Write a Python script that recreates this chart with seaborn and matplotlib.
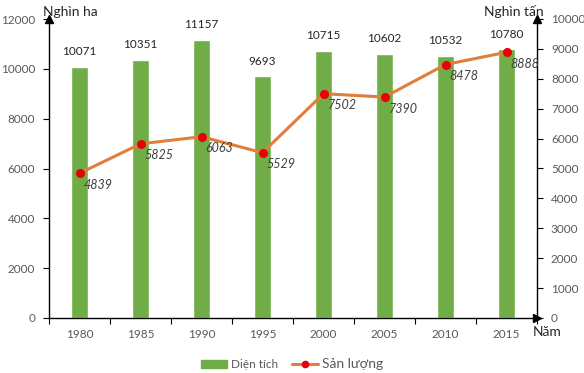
import numpy as np
import pandas as pd
import matplotlib
matplotlib.use('Agg')
import matplotlib.pyplot as plt
import seaborn as sns

years = ['1980', '1985', '1990', '1995', '2000', '2005', '2010', '2015']
area = [10071, 10351, 11157, 9693, 10715, 10602, 10532, 10780]
output = [4839, 5825, 6063, 5529, 7502, 7390, 8478, 8888]

sns.set_style('white')
plt.rcParams['font.family'] = ['Lato', 'DejaVu Sans']

green = '#70AD47'
orange = '#E07F3A'
grey = '#595959'

df = pd.DataFrame({'year': years, 'area': area, 'output': output})

fig = plt.figure(figsize=(5.84, 3.73), dpi=100)
ax = fig.add_axes([49 / 584, 1 - 318 / 373, (537 - 49) / 584, (318 - 19) / 373])
ax2 = ax.twinx()

sns.barplot(data=df, x='year', y='area', color=green, width=0.27,
            saturation=1, ax=ax, zorder=2)
ax2.plot(np.arange(len(years)), df['output'], color=orange, lw=2.2, zorder=3)
ax2.plot(np.arange(len(years)), df['output'], 'o', color='#E8000B',
         ms=5.5, zorder=4)

ax.set_xlim(-0.5, len(years) - 0.5)
ax.set_ylim(0, 12000)
ax2.set_ylim(0, 10000)
ax.set_yticks(range(0, 12001, 2000))
ax2.set_yticks(range(0, 10001, 1000))
ax.set_xlabel('')
ax.set_ylabel('')

ax.spines['top'].set_visible(False)
ax2.spines['top'].set_visible(False)
ax2.spines['left'].set_visible(False)
ax2.spines['bottom'].set_visible(False)
ax.spines['right'].set_visible(False)
for sp in [ax.spines['left'], ax.spines['bottom'], ax2.spines['right']]:
    sp.set_color('black')
    sp.set_linewidth(1)

ax.tick_params(axis='y', length=4, width=0.8, color='black', labelsize=8.5,
               labelcolor=grey, left=True, pad=6)
ax2.tick_params(axis='y', length=4, width=0.8, color='black', labelsize=8.5,
                labelcolor=grey, right=True, pad=6)
# x ticks sit between categories, labels centred
ax.set_xticks(np.arange(-0.5, len(years)), minor=False)
ax.set_xticklabels([''] * (len(years) + 1))
ax.set_xticks(np.arange(len(years)), minor=True)
ax.set_xticklabels(years, minor=True)
ax.tick_params(axis='x', which='major', length=4, width=0.8, color='black', bottom=True)
ax.tick_params(axis='x', which='minor', length=0, labelsize=8.5, labelcolor=grey, pad=8)

# arrows at axis ends
ax.plot(0, 1, marker='^', color='black', ms=6, transform=ax.transAxes, clip_on=False)
ax.plot(1, 0, marker='>', color='black', ms=6, transform=ax.transAxes, clip_on=False)
ax.plot(1, 1, marker='^', color='black', ms=6, transform=ax.transAxes, clip_on=False)

# value labels
for i, v in enumerate(area):
    ax.annotate(str(v), (i, v), xytext=(0, 7), textcoords='offset points',
                ha='center', va='bottom', fontsize=8.5, color='#262626')
for i, v in enumerate(output):
    ax2.annotate(str(v), (i, v), xytext=(3, -4), textcoords='offset points',
                 ha='left', va='top', fontsize=9, color='#404040', style='italic')

fig.text(43 / 584, 1 - 12 / 373, 'Nghìn ha', fontsize=10, va='center', ha='left')
fig.text(484 / 584, 1 - 12 / 373, 'Nghìn tấn', fontsize=10, va='center', ha='left')
fig.text(533 / 584, 1 - 332 / 373, 'Năm', fontsize=10, va='center', ha='left')

handles = [plt.Rectangle((0, 0), 1, 1, color=green),
           plt.Line2D([], [], color=orange, lw=2.2, marker='o',
                      markerfacecolor='#E8000B', markeredgecolor='#E8000B', ms=4.5)]
leg = fig.legend(handles, ['Diện tích', 'Sản lượng'], loc='center',
                 bbox_to_anchor=(0.5, 1 - 364 / 373), ncol=2, frameon=False,
                 fontsize=8.5, handlelength=2.2, handleheight=0.7, columnspacing=1.2,
                 handletextpad=0.3, labelcolor=grey)
leg.get_texts()[1].set_fontsize(10)

fig.savefig('out.png', dpi=100)
